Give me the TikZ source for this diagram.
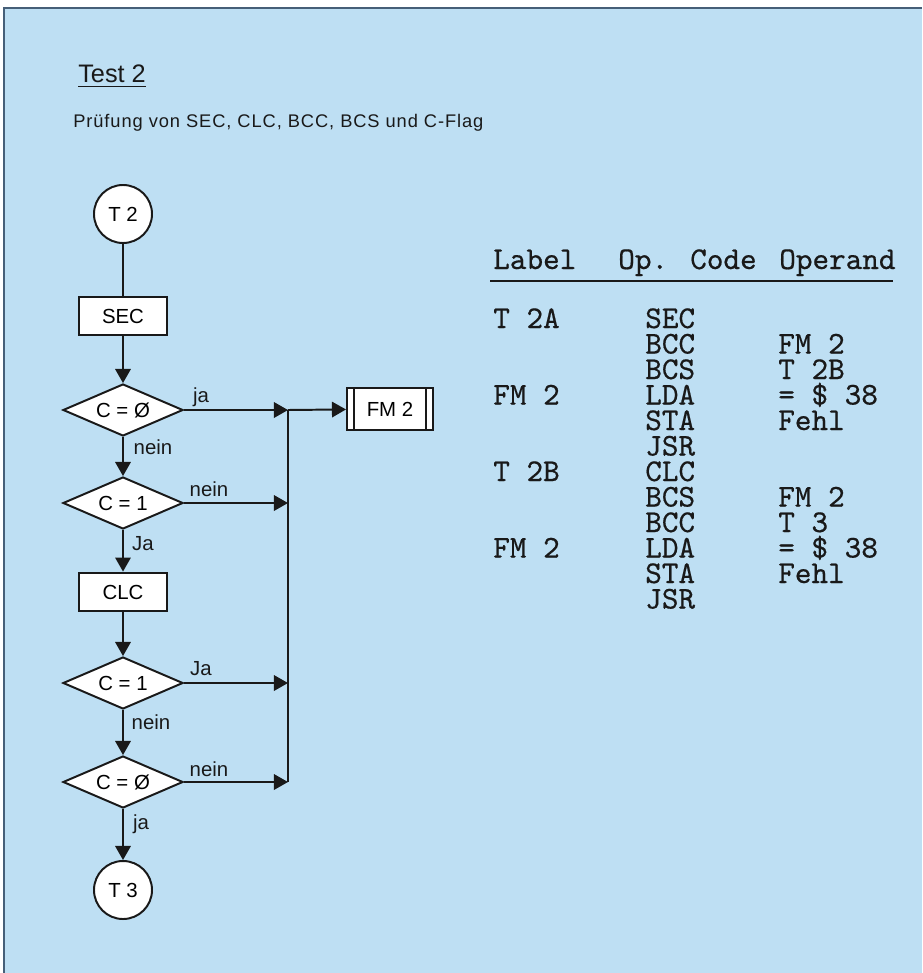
\documentclass[tikz,border=0pt]{standalone}
\usepackage{fontspec}
\setmainfont{Liberation Sans}
\newfontfamily\codefamily{lmmono10-regular.otf}[FakeBold=0.5]
\usetikzlibrary{positioning, arrows.meta, shapes.geometric}

\definecolor{bgblue}{RGB}{190,223,243}
\definecolor{framegrey}{RGB}{70,95,120}
\definecolor{ink}{RGB}{25,25,25}

\newcommand{\flowfont}{\fontsize{14.5}{17}\selectfont}
\newcommand{\codefont}{\codefamily\fontsize{22.5}{24}\selectfont}

\tikzset{
  flow/.style={ink, line width=1.4pt, -{Triangle[length=10pt,width=11pt]}},
  bus/.style={ink, line width=1.4pt},
  term/.style={circle, draw=ink, line width=1.4pt, fill=white, minimum size=1.45cm, inner sep=0pt, font=\flowfont},
  procbox/.style={rectangle, draw=ink, line width=1.4pt, fill=white, minimum width=2.2cm, minimum height=0.97cm, font=\flowfont},
  subbox/.style={rectangle, draw=ink, line width=1.4pt, fill=white, minimum width=2.15cm, minimum height=1.05cm, font=\flowfont},
  test/.style={diamond, draw=ink, line width=1.4pt, fill=white, aspect=2.3, inner sep=1pt, minimum width=3cm, minimum height=1.3cm, font=\flowfont},
  lbl/.style={inner sep=0pt, text=ink, font=\flowfont},
  code/.style={anchor=base west, inner sep=0pt, text=ink, font=\codefont}
}

\begin{document}
\begin{tikzpicture}[x=0.025cm, y=-0.025cm]

\useasboundingbox (0,0) rectangle (922,973);

% Background and frame
\fill[bgblue] (4,8) rectangle (922,973);
\draw[framegrey, line width=1pt] (4,973) -- (4,8) -- (922,8);

% Heading
\node[anchor=base west, inner sep=0pt, text=ink, font=\fontsize{18}{21}\selectfont] (ttl) at (78,82) {Test 2};
\draw[ink, line width=1pt] ([yshift=-3pt]ttl.base west) -- ([yshift=-3pt]ttl.base east);
\node[anchor=base west, inner sep=0pt, text=ink, font=\fontsize{13}{15}\selectfont\addfontfeature{LetterSpace=5}] (sub) at (73,127) {Prüfung von SEC, CLC, BCC, BCS und C-Flag};

% Flowchart
\node[term] (t2) at (123,214) {T 2};
\node[procbox] (sec) at (123,316) {SEC};
\node[test] (d1) at (123,410) {C = Ø};
\node[test] (d2) at (123,503) {C = 1};
\node[procbox] (clc) at (123,592) {CLC};
\node[test] (d3) at (123,683) {C = 1};
\node[test] (d4) at (123,782) {C = Ø};
\node[term] (t3) at (123,890) {T 3};
\node[subbox] (fm) at (390,409) {FM 2};
\draw[ink, line width=1pt] ([xshift=5.7pt]fm.north west) -- ([xshift=5.7pt]fm.south west);
\draw[ink, line width=1pt] ([xshift=-5.7pt]fm.north east) -- ([xshift=-5.7pt]fm.south east);

% Bus to error routine
\coordinate (b1) at (288,410);
\coordinate (b2) at (288,503);
\coordinate (b3) at (288,683);
\coordinate (b4) at (288,782);

% Edges
\draw[bus] (t2) -- (sec);
\draw[flow] (sec) -- (d1);
\draw[flow] (d1) -- (d2);
\draw[flow] (d2) -- (clc);
\draw[flow] (clc) -- (d3);
\draw[flow] (d3) -- (d4);
\draw[flow] (d4) -- (t3);
\draw[flow] (d1) -- (b1);
\draw[flow] (d2) -- (b2);
\draw[flow] (d3) -- (b3);
\draw[flow] (d4) -- (b4);
\draw[bus] (b1) -- (b4);
\draw[flow] (b1) -- (fm);

% Edge labels
\node[lbl] (ja1) at (201,397) {ja};
\node[lbl] (nein1) at (153,447) {nein};
\node[lbl] (nein2) at (209,489) {nein};
\node[lbl] (ja2) at (143,544) {Ja};
\node[lbl] (ja3) at (201,669) {Ja};
\node[lbl] (nein3) at (151,722) {nein};
\node[lbl] (nein4) at (209,769) {nein};
\node[lbl] (ja4) at (141,824) {ja};

% Listing
\node[code] (hlab) at (493,269) {Label};
\node[code] (hop) at (618,269) {Op. Code};
\node[code] (harg) at (779,269) {Operand};
\draw[ink, line width=1.4pt] (490,281) -- (893,281);
\foreach \lab/\op/\arg [count=\i] in {T 2A/SEC/, /BCC/FM 2, /BCS/T 2B, FM 2/LDA/= \$ 38, /STA/Fehl, /JSR/,
    T 2B/CLC/, /BCS/FM 2, /BCC/T 3, FM 2/LDA/= \$ 38, /STA/Fehl, /JSR/} {
  \node[code] (lab\i) at (493,{328+(\i-1)*25.5}) {\lab};
  \node[code] (op\i) at (645,{328+(\i-1)*25.5}) {\op};
  \node[code] (arg\i) at (778,{328+(\i-1)*25.5}) {\arg};
}

\end{tikzpicture}
\end{document}
